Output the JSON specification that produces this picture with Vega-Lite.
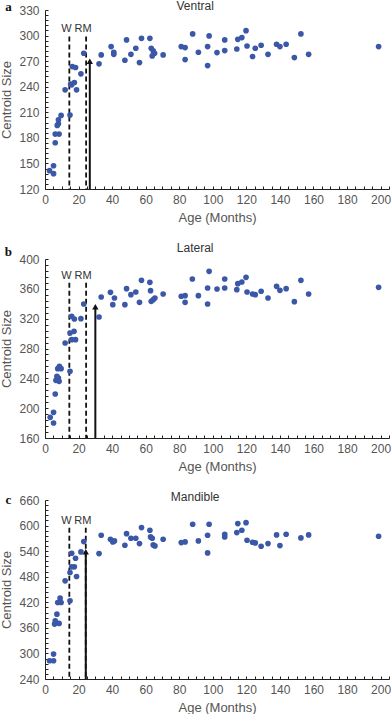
{
  "$schema": "https://vega.github.io/schema/vega-lite/v6.json",
  "padding": {"left": 0, "top": 0, "right": 0, "bottom": 0},
  "background": "white",
  "spacing": 18,
  "config": {
    "view": {"stroke": null},
    "font": "Liberation Sans",
    "axis": {
      "grid": false,
      "labelFont": "Liberation Sans",
      "titleFont": "Liberation Sans",
      "labelFontSize": 12,
      "titleFontSize": 13,
      "titleFontWeight": "normal",
      "labelColor": "#555555",
      "titleColor": "#555555",
      "domainColor": "#222222",
      "tickColor": "#222222",
      "tickSize": -3,
      "tickCount": 200,
      "labelFlush": false,
      "labelOverlap": false
    },
    "axisX": {"labelPadding": 8, "titlePadding": 6},
    "axisY": {"labelPadding": 9, "titlePadding": 5}
  },
  "datasets": {
    "ventral": [
      {"age":2.7,"size":141.5},{"age":5.1,"size":147.3},{"age":5.1,"size":138},{"age":6.1,"size":174.3},{"age":6.1,"size":184.4},{"age":8.4,"size":184.4},{"age":7.3,"size":194.6},{"age":8.0,"size":196.5},{"age":8.0,"size":201.2},{"age":9.6,"size":206.3},{"age":14.9,"size":206.7},{"age":12.0,"size":236.3},{"age":15.9,"size":242.2},{"age":16.3,"size":263.6},{"age":18.2,"size":262.5},{"age":17.5,"size":244.9},{"age":15.3,"size":243},{"age":18.8,"size":236.3},{"age":21.4,"size":255.1},{"age":23.1,"size":279.3},{"age":32.2,"size":266.8},{"age":33.5,"size":277.3},{"age":39.4,"size":287.1},{"age":41.0,"size":280.4},{"age":41.0,"size":278},{"age":47.6,"size":271.1},{"age":48.6,"size":294.9},{"age":51.2,"size":278},{"age":54.1,"size":285.1},{"age":56.3,"size":268.3},{"age":57.5,"size":296.8},{"age":62.5,"size":296.8},{"age":63.3,"size":285.1},{"age":64.5,"size":282},{"age":63.9,"size":276.1},{"age":65.3,"size":279.3},{"age":70.4,"size":277.3},{"age":81.2,"size":287.1},{"age":83.5,"size":285.9},{"age":83.5,"size":271.8},{"age":88.0,"size":301.9},{"age":91.4,"size":280.4},{"age":96.9,"size":287.1},{"age":96.9,"size":264.8},{"age":97.8,"size":299.6},{"age":102.5,"size":280},{"age":107.1,"size":294.9},{"age":107.1,"size":282.4},{"age":114.3,"size":284.3},{"age":114.9,"size":295.6},{"age":117.3,"size":297.6},{"age":119.8,"size":305.8},{"age":120.4,"size":287.8},{"age":123.7,"size":275.4},{"age":125.3,"size":285.1},{"age":128.8,"size":288.6},{"age":132.9,"size":278},{"age":138.0,"size":289.8},{"age":140.0,"size":287.1},{"age":143.7,"size":289.8},{"age":148.6,"size":274.2},{"age":152.5,"size":301.9},{"age":157.1,"size":278},{"age":198.8,"size":287.1}
    ],
    "lateral": [
      {"age":3.1,"size":187.7},{"age":5.1,"size":194.4},{"age":5.1,"size":180.1},{"age":6.1,"size":219},{"age":6.5,"size":237.3},{"age":7.1,"size":242.7},{"age":8.0,"size":240.5},{"age":8.4,"size":236},{"age":7.6,"size":253},{"age":8.6,"size":256.1},{"age":9.6,"size":253},{"age":12.0,"size":287.4},{"age":14.9,"size":249.4},{"age":14.9,"size":300.8},{"age":15.9,"size":323.1},{"age":17.3,"size":303},{"age":15.9,"size":291.8},{"age":18.2,"size":291.8},{"age":17.5,"size":319.6},{"age":21.4,"size":320},{"age":23.1,"size":339.7},{"age":32.2,"size":322.2},{"age":33.5,"size":349.1},{"age":39.0,"size":355.3},{"age":40.4,"size":338.8},{"age":41.4,"size":347.7},{"age":47.6,"size":338.8},{"age":48.6,"size":360.2},{"age":51.2,"size":352.2},{"age":54.1,"size":355.8},{"age":56.3,"size":341.9},{"age":57.5,"size":371.4},{"age":62.5,"size":368.7},{"age":62.9,"size":357.5},{"age":63.3,"size":343.2},{"age":64.5,"size":345.5},{"age":65.5,"size":347.7},{"age":70.4,"size":353.1},{"age":81.2,"size":350},{"age":83.5,"size":350.8},{"age":83.5,"size":341.9},{"age":87.8,"size":373.2},{"age":91.4,"size":350.8},{"age":96.9,"size":361.1},{"age":96.9,"size":339.7},{"age":97.8,"size":383.5},{"age":102.5,"size":359.8},{"age":107.1,"size":373.2},{"age":107.1,"size":361.1},{"age":114.3,"size":358.9},{"age":114.9,"size":366.9},{"age":117.3,"size":369.2},{"age":119.8,"size":375.4},{"age":120.4,"size":355.8},{"age":123.7,"size":353.1},{"age":125.3,"size":352.2},{"age":128.8,"size":356.7},{"age":132.9,"size":347.7},{"age":138.0,"size":363.4},{"age":140.0,"size":358},{"age":143.7,"size":360.2},{"age":148.6,"size":342.8},{"age":152.5,"size":371.4},{"age":157.1,"size":353.1},{"age":198.8,"size":362}
    ],
    "mandible": [
      {"age":2.7,"size":282.9},{"age":5.1,"size":298.5},{"age":5.1,"size":282.9},{"age":6.1,"size":376.6},{"age":5.7,"size":368.8},{"age":7.1,"size":392.2},{"age":8.4,"size":370.4},{"age":7.6,"size":419.5},{"age":9.0,"size":429.7},{"age":9.6,"size":419.5},{"age":12.0,"size":470.3},{"age":14.9,"size":423.4},{"age":14.9,"size":489.8},{"age":15.9,"size":535.1},{"age":15.9,"size":503.1},{"age":17.5,"size":503.1},{"age":18.2,"size":523.4},{"age":18.8,"size":480.4},{"age":21.4,"size":538.2},{"age":23.1,"size":562.4},{"age":32.2,"size":534.3},{"age":33.5,"size":577.2},{"age":39.0,"size":567.9},{"age":40.4,"size":561.6},{"age":41.4,"size":564},{"age":47.6,"size":553.8},{"age":48.6,"size":581.1},{"age":51.2,"size":570.2},{"age":54.1,"size":570.2},{"age":56.3,"size":557.7},{"age":57.5,"size":595.2},{"age":62.5,"size":589},{"age":62.9,"size":573.3},{"age":63.9,"size":570.2},{"age":64.5,"size":554.6},{"age":65.5,"size":552.3},{"age":70.4,"size":567.9},{"age":81.2,"size":560.1},{"age":83.5,"size":561.6},{"age":88.0,"size":603},{"age":91.4,"size":564},{"age":96.9,"size":577.2},{"age":96.9,"size":535.9},{"age":97.8,"size":603},{"age":107.1,"size":579.6},{"age":107.1,"size":573.3},{"age":114.3,"size":583.5},{"age":114.9,"size":604.6},{"age":117.3,"size":589},{"age":119.8,"size":606.9},{"age":120.4,"size":565.5},{"age":123.7,"size":560.9},{"age":125.3,"size":559.3},{"age":128.8,"size":551.5},{"age":132.9,"size":557.7},{"age":138.0,"size":578},{"age":140.0,"size":553},{"age":143.7,"size":579.6},{"age":152.5,"size":571},{"age":157.1,"size":578},{"age":198.8,"size":574.9}
    ],
    "ventralEvents": [{"event":"W","age":14.5,"top":299},{"event":"RM","age":24.5,"top":299}],
    "lateralEvents": [{"event":"W","age":14.5,"top":368},{"event":"RM","age":24.5,"top":368}],
    "mandibleEvents": [{"event":"W","age":14.5,"top":595},{"event":"RM","age":24.3,"top":595}],
    "ventralArrow": [{"age":26.7,"tip":270}],
    "lateralArrow": [{"age":30.0,"tip":336}],
    "mandibleArrow": [{"age":24.3,"tip":538.5}]
  },
  "vconcat": [
    {
      "width": 344, "height": 179,
      "layer": [
        {
          "data": {"name": "ventralEvents"},
          "mark": {"type": "rule", "strokeDash": [5, 3], "strokeWidth": 1.8, "color": "#111111"},
          "encoding": {
            "x": {"field": "age", "type": "quantitative", "scale": {"domain": [0, 205], "nice": false},
              "axis": {"title": "Age (Months)", "labelOverlap": false, "tickCount": 200, "values": [0,5,10,15,20,25,30,35,40,45,50,55,60,65,70,75,80,85,90,95,100,105,110,115,120,125,130,135,140,145,150,155,160,165,170,175,180,185,190,195,200,205], "labelExpr": "datum.value % 20 == 0 ? datum.label : ''"}},
            "y": {"field": "top", "type": "quantitative", "scale": {"domain": [120, 330], "nice": false},
              "axis": {"title": "Centroid Size", "labelOverlap": false, "tickCount": 200, "values": [120,126,132,138,144,150,156,162,168,174,180,186,192,198,204,210,216,222,228,234,240,246,252,258,264,270,276,282,288,294,300,306,312,318,324,330], "labelExpr": "datum.value % 30 == 0 ? datum.label : ''"}},
            "y2": {"datum": 120}
          }
        },
        {
          "data": {"name": "ventralEvents"},
          "mark": {"type": "text", "baseline": "bottom", "dy": -2, "dx": -3, "fontSize": 11, "color": "#333333"},
          "encoding": {"x": {"field": "age", "type": "quantitative"}, "y": {"field": "top", "type": "quantitative"}, "text": {"field": "event"}}
        },
        {
          "data": {"name": "ventralArrow"},
          "mark": {"type": "rule", "strokeWidth": 2, "color": "#111111"},
          "encoding": {"x": {"field": "age", "type": "quantitative"}, "y": {"field": "tip", "type": "quantitative"}, "y2": {"datum": 120}}
        },
        {
          "data": {"name": "ventralArrow"},
          "mark": {"type": "point", "shape": "triangle-up", "filled": true, "size": 40, "color": "#111111", "opacity": 1},
          "encoding": {"x": {"field": "age", "type": "quantitative"}, "y": {"field": "tip", "type": "quantitative"}}
        },
        {
          "data": {"name": "ventral"},
          "mark": {"type": "circle", "size": 32, "color": "#3b57a7", "opacity": 1},
          "encoding": {"x": {"field": "age", "type": "quantitative"}, "y": {"field": "size", "type": "quantitative"}}
        },
        {
          "data": {"values": [{"panel": "a", "view": "Ventral"}]},
          "mark": {"type": "text", "font": "Liberation Serif", "fontWeight": "bold", "fontSize": 13, "baseline": "middle", "align": "center", "dy": -3, "color": "#111111"},
          "encoding": {"x": {"datum": -21.8}, "y": {"datum": 330}, "text": {"field": "panel"}}
        },
        {
          "data": {"values": [{"panel": "a", "view": "Ventral"}]},
          "mark": {"type": "text", "font": "Liberation Sans", "fontSize": 12, "baseline": "alphabetic", "align": "center", "dy": 0, "color": "#333333"},
          "encoding": {"x": {"datum": 89.5}, "y": {"datum": 330}, "text": {"field": "view"}}
        }
      ]
    },
    {
      "width": 344, "height": 179,
      "layer": [
        {
          "data": {"name": "lateralEvents"},
          "mark": {"type": "rule", "strokeDash": [5, 3], "strokeWidth": 1.8, "color": "#111111"},
          "encoding": {
            "x": {"field": "age", "type": "quantitative", "scale": {"domain": [0, 205], "nice": false},
              "axis": {"title": "Age (Months)", "labelOverlap": false, "tickCount": 200, "values": [0,5,10,15,20,25,30,35,40,45,50,55,60,65,70,75,80,85,90,95,100,105,110,115,120,125,130,135,140,145,150,155,160,165,170,175,180,185,190,195,200,205], "labelExpr": "datum.value % 20 == 0 ? datum.label : ''"}},
            "y": {"field": "top", "type": "quantitative", "scale": {"domain": [160, 400], "nice": false},
              "axis": {"title": "Centroid Size", "labelOverlap": false, "tickCount": 200, "values": [160,168,176,184,192,200,208,216,224,232,240,248,256,264,272,280,288,296,304,312,320,328,336,344,352,360,368,376,384,392,400], "labelExpr": "datum.value % 40 == 0 ? datum.label : ''"}},
            "y2": {"datum": 160}
          }
        },
        {
          "data": {"name": "lateralEvents"},
          "mark": {"type": "text", "baseline": "bottom", "dy": -2, "dx": -3, "fontSize": 11, "color": "#333333"},
          "encoding": {"x": {"field": "age", "type": "quantitative"}, "y": {"field": "top", "type": "quantitative"}, "text": {"field": "event"}}
        },
        {
          "data": {"name": "lateralArrow"},
          "mark": {"type": "rule", "strokeWidth": 2, "color": "#111111"},
          "encoding": {"x": {"field": "age", "type": "quantitative"}, "y": {"field": "tip", "type": "quantitative"}, "y2": {"datum": 160}}
        },
        {
          "data": {"name": "lateralArrow"},
          "mark": {"type": "point", "shape": "triangle-up", "filled": true, "size": 40, "color": "#111111", "opacity": 1},
          "encoding": {"x": {"field": "age", "type": "quantitative"}, "y": {"field": "tip", "type": "quantitative"}}
        },
        {
          "data": {"name": "lateral"},
          "mark": {"type": "circle", "size": 32, "color": "#3b57a7", "opacity": 1},
          "encoding": {"x": {"field": "age", "type": "quantitative"}, "y": {"field": "size", "type": "quantitative"}}
        },
        {
          "data": {"values": [{"panel": "b", "view": "Lateral"}]},
          "mark": {"type": "text", "font": "Liberation Serif", "fontWeight": "bold", "fontSize": 13, "baseline": "middle", "align": "center", "dy": -7, "color": "#111111"},
          "encoding": {"x": {"datum": -21.8}, "y": {"datum": 400}, "text": {"field": "panel"}}
        },
        {
          "data": {"values": [{"panel": "b", "view": "Lateral"}]},
          "mark": {"type": "text", "font": "Liberation Sans", "fontSize": 12, "baseline": "alphabetic", "align": "center", "dy": -7, "color": "#333333"},
          "encoding": {"x": {"datum": 89.5}, "y": {"datum": 400}, "text": {"field": "view"}}
        }
      ]
    },
    {
      "width": 344, "height": 179,
      "layer": [
        {
          "data": {"name": "mandibleEvents"},
          "mark": {"type": "rule", "strokeDash": [5, 3], "strokeWidth": 1.8, "color": "#111111"},
          "encoding": {
            "x": {"field": "age", "type": "quantitative", "scale": {"domain": [0, 205], "nice": false},
              "axis": {"title": "Age (Months)", "labelOverlap": false, "tickCount": 200, "values": [0,5,10,15,20,25,30,35,40,45,50,55,60,65,70,75,80,85,90,95,100,105,110,115,120,125,130,135,140,145,150,155,160,165,170,175,180,185,190,195,200,205], "labelExpr": "datum.value % 20 == 0 ? datum.label : ''"}},
            "y": {"field": "top", "type": "quantitative", "scale": {"domain": [240, 660], "nice": false},
              "axis": {"title": "Centroid Size", "labelOverlap": false, "tickCount": 200, "values": [240,252,264,276,288,300,312,324,336,348,360,372,384,396,408,420,432,444,456,468,480,492,504,516,528,540,552,564,576,588,600,612,624,636,648,660], "labelExpr": "datum.value % 60 == 0 ? datum.label : ''"}},
            "y2": {"datum": 240}
          }
        },
        {
          "data": {"name": "mandibleEvents"},
          "mark": {"type": "text", "baseline": "bottom", "dy": -2, "dx": -3, "fontSize": 11, "color": "#333333"},
          "encoding": {"x": {"field": "age", "type": "quantitative"}, "y": {"field": "top", "type": "quantitative"}, "text": {"field": "event"}}
        },
        {
          "data": {"name": "mandibleArrow"},
          "mark": {"type": "rule", "strokeWidth": 2, "color": "#111111"},
          "encoding": {"x": {"field": "age", "type": "quantitative"}, "y": {"field": "tip", "type": "quantitative"}, "y2": {"datum": 240}}
        },
        {
          "data": {"name": "mandibleArrow"},
          "mark": {"type": "point", "shape": "triangle-up", "filled": true, "size": 40, "color": "#111111", "opacity": 1},
          "encoding": {"x": {"field": "age", "type": "quantitative"}, "y": {"field": "tip", "type": "quantitative"}}
        },
        {
          "data": {"name": "mandible"},
          "mark": {"type": "circle", "size": 32, "color": "#3b57a7", "opacity": 1},
          "encoding": {"x": {"field": "age", "type": "quantitative"}, "y": {"field": "size", "type": "quantitative"}}
        },
        {
          "data": {"values": [{"panel": "c", "view": "Mandible"}]},
          "mark": {"type": "text", "font": "Liberation Serif", "fontWeight": "bold", "fontSize": 13, "baseline": "middle", "align": "center", "dy": 0, "color": "#111111"},
          "encoding": {"x": {"datum": -21.8}, "y": {"datum": 660}, "text": {"field": "panel"}}
        },
        {
          "data": {"values": [{"panel": "c", "view": "Mandible"}]},
          "mark": {"type": "text", "font": "Liberation Sans", "fontSize": 12, "baseline": "alphabetic", "align": "center", "dy": 1, "color": "#333333"},
          "encoding": {"x": {"datum": 89.5}, "y": {"datum": 660}, "text": {"field": "view"}}
        }
      ]
    }
  ]
}
